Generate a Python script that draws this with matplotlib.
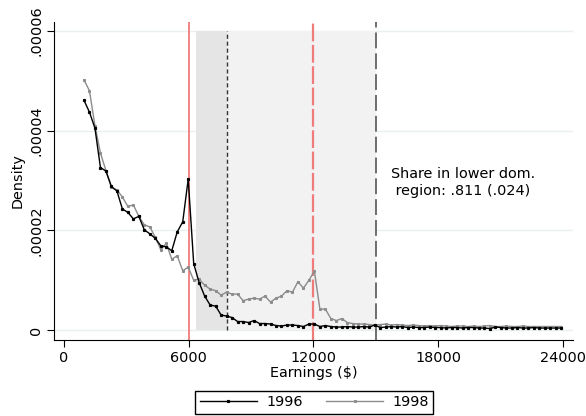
import matplotlib
matplotlib.use('Agg')
import matplotlib.pyplot as plt
import numpy as np

# earnings grid (bin midpoints, $)
earnings = [960, 1224, 1488, 1752, 2016, 2280, 2544, 2808, 3072, 3336,
            3600, 3864, 4128, 4392, 4656, 4920, 5184, 5448, 5712, 5976,
            6240, 6504, 6768, 7032, 7296, 7560, 7824, 8088, 8352, 8616,
            8880, 9144, 9408, 9672, 9936, 10200, 10464, 10728, 10992, 11256,
            11520, 11784, 12048, 12312, 12576, 12840, 13104, 13368, 13632, 13896,
            14160, 14424, 14688, 14952, 15216, 15480, 15744, 16008, 16272, 16536,
            16800, 17064, 17328, 17592, 17856, 18120, 18384, 18648, 18912, 19176,
            19440, 19704, 19968, 20232, 20496, 20760, 21024, 21288, 21552, 21816,
            22080, 22344, 22608, 22872, 23136, 23400, 23664, 23928]

# densities, in units of 1e-5
dens_1996 = [4.61, 4.37, 4.05, 3.26, 3.19, 2.88, 2.79, 2.43, 2.36, 2.23,
             2.28, 2.01, 1.93, 1.84, 1.69, 1.67, 1.59, 1.97, 2.17, 3.03,
             1.33, 0.95, 0.68, 0.50, 0.48, 0.30, 0.28, 0.25, 0.17, 0.17,
             0.15, 0.19, 0.13, 0.13, 0.12, 0.09, 0.08, 0.10, 0.10, 0.09,
             0.07, 0.12, 0.12, 0.07, 0.09, 0.07, 0.06, 0.06, 0.07, 0.06,
             0.06, 0.07, 0.06, 0.10, 0.05, 0.06, 0.07, 0.06, 0.07, 0.05,
             0.06, 0.05, 0.05, 0.06, 0.05, 0.05, 0.04, 0.05, 0.05, 0.04,
             0.05, 0.05, 0.04, 0.04, 0.03, 0.06, 0.05, 0.04, 0.04, 0.05,
             0.04, 0.04, 0.05, 0.04, 0.04, 0.04, 0.04, 0.04]

dens_1998 = [5.02, 4.80, 4.10, 3.55, 3.20, 2.86, 2.81, 2.67, 2.48, 2.51,
             2.28, 2.11, 2.07, 1.86, 1.61, 1.74, 1.42, 1.49, 1.19, 1.26,
             1.00, 1.02, 0.90, 0.82, 0.79, 0.70, 0.76, 0.72, 0.72, 0.59,
             0.62, 0.64, 0.62, 0.68, 0.56, 0.64, 0.68, 0.79, 0.76, 0.97,
             0.84, 1.00, 1.18, 0.42, 0.42, 0.23, 0.19, 0.23, 0.15, 0.13,
             0.12, 0.12, 0.11, 0.10, 0.11, 0.12, 0.10, 0.11, 0.10, 0.09,
             0.10, 0.09, 0.08, 0.09, 0.08, 0.09, 0.08, 0.07, 0.08, 0.08,
             0.07, 0.08, 0.07, 0.08, 0.09, 0.07, 0.07, 0.08, 0.07, 0.07,
             0.08, 0.07, 0.07, 0.07, 0.07, 0.07, 0.07, 0.07]

years = ['1996', '1998']
xticks = [0, 6000, 12000, 18000, 24000]
yticks = [0, 0.00002, 0.00004, 0.00006]
ytick_labels = ['0', '.00002', '.00004', '.00006']

min_wage = 6000
dotted_x = 7840
upper_x = 15000
shade_lo = 6330
share_text = 'Share in lower dom.\n region: .811 (.024)'

plt.rcParams['font.family'] = 'DejaVu Sans'
plt.rcParams['font.size'] = 10.4

fig = plt.figure(figsize=(5.86, 4.16), dpi=100)
ax = fig.add_axes([0.0927, 0.1827, 0.8846, 0.7644])

x = np.array(earnings)
y96 = np.array(dens_1996) * 1e-5
y98 = np.array(dens_1998) * 1e-5

for yt in yticks:
    ax.axhline(yt, color='#eaf0f0', lw=1, zorder=0)

# shaded regions
ax.fill_between([shade_lo, dotted_x], 0, 0.00006, color='#e5e5e5', lw=0, zorder=1)
ax.fill_between([dotted_x, upper_x], 0, 0.00006, color='#f2f2f2', lw=0, zorder=1)
ax.plot([dotted_x, dotted_x], [0, 0.00006], color='#333333', lw=1,
        dashes=(3, 2), zorder=2)

ax.axvline(min_wage, color='#f07b7b', lw=1.3, zorder=2)
ax.axvline(2 * min_wage, color='#f07b7b', lw=1.6, dashes=(8, 1.6), zorder=2)
ax.axvline(upper_x, color='#555555', lw=1.2, dashes=(9.5, 3), zorder=2)

l96, = ax.plot(x, y96, color='black', lw=1, marker='s', ms=1.3, zorder=4)
l98, = ax.plot(x, y98, color='#8c8c8c', lw=1, marker='s', ms=1.2, zorder=3)

ax.text(15720, 0.0000296, share_text, ha='left', va='center')

ax.set_xlim(-467, 24477)
ax.set_ylim(-0.000002, 0.0000618)
ax.set_xticks(xticks)
ax.set_xticklabels([str(t) for t in xticks])
ax.set_yticks(yticks)
ax.set_yticklabels(ytick_labels, rotation=90, va='center')
ax.tick_params(direction='out', length=5, width=0.8, color='black', pad=3)
ax.set_xlabel('Earnings ($)', labelpad=1)
ax.set_ylabel('Density', labelpad=3)
for s in ['top', 'right']:
    ax.spines[s].set_visible(False)

fig.legend([l96, l98], years, loc='center', bbox_to_anchor=(0.536, 0.033),
           ncol=2, fancybox=False, edgecolor='black', framealpha=1,
           handlelength=4.0, columnspacing=1.6, borderpad=0.3,
           handletextpad=0.6)

plt.savefig('out.png', dpi=100)
